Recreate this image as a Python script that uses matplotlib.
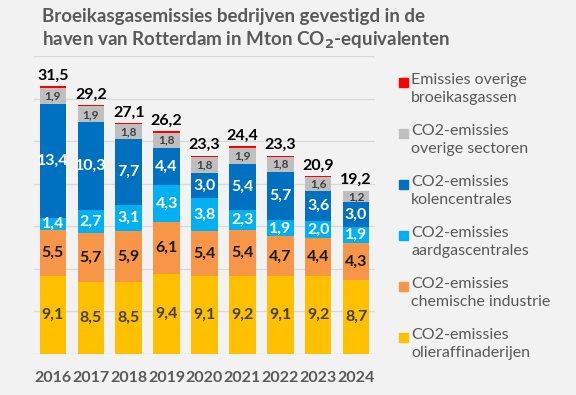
import matplotlib
matplotlib.use("Agg")
import matplotlib.pyplot as plt
from matplotlib.patches import Rectangle
import numpy as np

plt.rcParams["font.family"] = ["Lato", "DejaVu Sans"]

years = ["2016", "2017", "2018", "2019", "2020", "2021", "2022", "2023", "2024"]
olie = [9.1, 8.5, 8.5, 9.4, 9.1, 9.2, 9.1, 9.2, 8.7]
chemie = [5.5, 5.7, 5.9, 6.1, 5.4, 5.4, 4.7, 4.4, 4.3]
aardgas = [1.4, 2.7, 3.1, 4.3, 3.8, 2.3, 1.9, 2.0, 1.9]
kolen = [13.4, 10.3, 7.7, 4.4, 3.0, 5.4, 5.7, 3.6, 3.0]
overig = [1.9, 1.9, 1.8, 1.8, 1.8, 1.9, 1.8, 1.6, 1.2]
gassen = [0.2, 0.1, 0.1, 0.2, 0.2, 0.2, 0.1, 0.1, 0.1]
totals = [31.5, 29.2, 27.1, 26.2, 23.3, 24.4, 23.3, 20.9, 19.2]

series = [
    (olie, "#ffc000", "#404040", 11.5, "CO2-emissies\nolieraffinaderijen"),
    (chemie, "#f79646", "#1a1a1a", 11.5, "CO2-emissies\nchemische industrie"),
    (aardgas, "#00b0f0", "white", 11.5, "CO2-emissies\naardgascentrales"),
    (kolen, "#0070c0", "white", 11.5, "CO2-emissies\nkolencentrales"),
    (overig, "#bfbfbf", "#404040", 8.5, "CO2-emissies\noverige sectoren"),
    (gassen, "#ff0000", None, 0, "Emissies overige\nbroeikasgassen"),
]

BG = "#f2f2f2"
fig = plt.figure(figsize=(5.76, 3.95), dpi=100, facecolor=BG)
ax = fig.add_axes([0.059, 0.104, 0.592, 0.754], facecolor=BG)

x = np.arange(len(years))
bottom = np.zeros(len(years))
for vals, col, tcol, fs, lbl in series:
    v = np.array(vals)
    ax.bar(x, v, 0.7, bottom=bottom, color=col, zorder=3)
    if tcol:
        for xi, b, h in zip(x, bottom, v):
            ax.text(xi, b + h / 2, f"{h:.1f}".replace(".", ","), ha="center",
                    va="center", color=tcol, fontsize=fs, fontweight="bold",
                    zorder=4)
    bottom += v

for xi, t, top in zip(x, totals, bottom):
    ax.text(xi, top + 0.4, f"{t:.1f}".replace(".", ","), ha="center",
            va="bottom", color="black", fontsize=11.5, fontweight="bold")

ax.set_xlim(-0.5, 8.5)
ax.set_ylim(0, 35)
ax.set_yticks(np.arange(0, 36, 5))
ax.yaxis.grid(True, color="#d9d9d9", lw=0.9, zorder=0)
ax.tick_params(left=False, labelleft=False, bottom=False)
ax.set_xticks(x)
ax.set_xticklabels(years, fontsize=11.5, fontweight="bold", color="#595959")
ax.tick_params(axis="x", pad=9)
for s in ax.spines.values():
    s.set_visible(False)

fig.text(0.073, 0.958, "Broeikasgasemissies bedrijven gevestigd in de",
         fontsize=13.5, fontweight="bold", color="#595959", va="center")
fig.text(0.073, 0.897, "haven van Rotterdam in Mton CO$_\\mathbf{2}$-equivalenten",
         fontsize=13.5, fontweight="bold", color="#595959", va="center")

# legend, top entry first
ys = [82, 133, 184, 235, 286, 337]
for (vals, col, tcol, fs, lbl), yp in zip(series[::-1], ys):
    fig.patches.append(Rectangle((399 / 576, 1 - (yp + 5) / 395), 9 / 576, 9 / 395,
                                 transform=fig.transFigure, color=col))
    fig.text(411 / 576, 1 - (yp - 9) / 395, lbl, fontsize=11.5, color="#595959",
             va="top", linespacing=1.35)

fig.savefig("out.png", dpi=100, facecolor=BG)
